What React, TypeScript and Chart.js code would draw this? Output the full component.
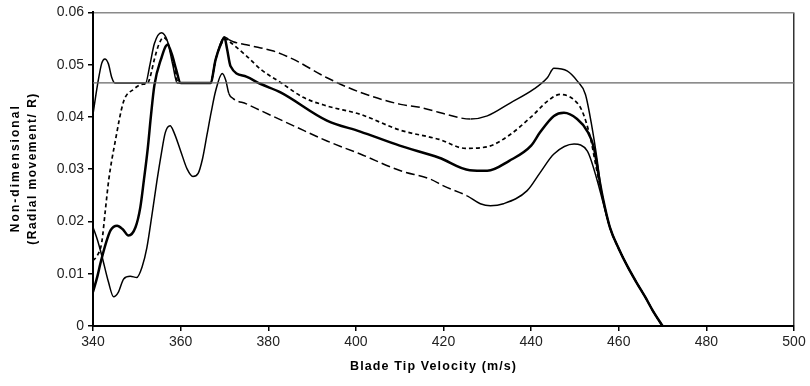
import React, { useEffect, useRef } from "react";
import { Chart, registerables } from "chart.js";

Chart.register(...registerables);

// Blade tip velocity (m/s) and non-dimensional radial movement for each curve
const velA = [340, 341, 342, 342.7, 343.5, 344.3, 345, 352, 353, 354, 355.6, 357, 358.2, 359.2, 366.8, 368, 369.2, 370, 371, 372, 375, 378.3, 381.2, 385.8, 393.4, 401, 410.2, 414.8, 419.3, 423.9, 426.2, 430, 435.3, 440.6, 443.7, 445.2, 448.2, 450.5, 452.4, 453.9, 455.1, 456, 458, 460, 462, 464, 466, 468, 470];
const radA = [0.0405, 0.046, 0.0503, 0.0511, 0.0502, 0.0475, 0.0465, 0.0465, 0.05, 0.054, 0.0561, 0.0545, 0.05, 0.0465, 0.0465, 0.051, 0.0543, 0.0553, 0.0548, 0.0544, 0.0538, 0.0532, 0.0526, 0.051, 0.0475, 0.0447, 0.0424, 0.0418, 0.0408, 0.0398, 0.0396, 0.0402, 0.0427, 0.0453, 0.0475, 0.0493, 0.0488, 0.0469, 0.0443, 0.038, 0.0316, 0.026, 0.0188, 0.0148, 0.0114, 0.0084, 0.0056, 0.0026, 0];

const velB = [340, 341, 342, 342.8, 343.6, 345, 347, 349.3, 351, 352.5, 353, 354, 355, 356.1, 357.2, 358.4, 359.5, 366.8, 368, 369.3, 370.3, 371, 375, 378.3, 382.8, 388.1, 393.4, 401, 410, 419, 425, 430, 435, 440, 444, 446.6, 449.6, 451.6, 453.5, 455, 456.2, 458, 460, 462, 464, 466, 468, 470];
const radB = [0.0125, 0.0135, 0.016, 0.022, 0.028, 0.035, 0.043, 0.0453, 0.0462, 0.0465, 0.0475, 0.051, 0.0538, 0.0552, 0.054, 0.05, 0.0465, 0.0465, 0.051, 0.054, 0.0549, 0.0545, 0.0517, 0.0491, 0.0466, 0.0437, 0.0421, 0.0405, 0.0375, 0.0357, 0.034, 0.0343, 0.0365, 0.04, 0.0432, 0.0443, 0.0434, 0.0412, 0.0361, 0.0297, 0.025, 0.0188, 0.0148, 0.0114, 0.0084, 0.0056, 0.0026, 0];

const velC = [340, 341, 341.7, 343, 344, 345.5, 346.8, 348.1, 349.7, 350.8, 351.6, 352.5, 353.2, 354, 355.5, 357, 358, 359, 360, 366.8, 368, 369.2, 370, 370.6, 371.4, 375, 378.3, 382.8, 393.4, 401, 410, 419, 426, 430, 435, 440, 442, 445.2, 447.5, 450.5, 452.8, 454.3, 455.5, 456.5, 458, 460, 462, 464, 466, 468, 470];
const radC = [0.0065, 0.0095, 0.012, 0.016, 0.0183, 0.0192, 0.0185, 0.0173, 0.0189, 0.0227, 0.0278, 0.034, 0.04, 0.046, 0.051, 0.0538, 0.052, 0.049, 0.0465, 0.0465, 0.051, 0.054, 0.0552, 0.053, 0.0497, 0.0477, 0.0463, 0.0447, 0.0393, 0.0372, 0.0345, 0.0322, 0.0298, 0.0297, 0.0316, 0.0345, 0.037, 0.0402, 0.0408, 0.0396, 0.0373, 0.0342, 0.0284, 0.024, 0.0188, 0.0148, 0.0114, 0.0084, 0.0056, 0.0026, 0];

const velD = [340, 341, 342, 343.5, 344.7, 345.8, 347, 348.5, 350, 351.2, 352.3, 353.5, 354.6, 355.6, 356.5, 357.6, 358.5, 360, 361.5, 362.8, 364, 365, 366, 367, 368, 369.5, 370.3, 371, 372, 375, 378.3, 385.8, 393.4, 401, 410.2, 417, 420, 425.4, 428.4, 430.7, 433.7, 439.1, 442.1, 445.2, 449.8, 452.8, 455.1, 456.3, 458, 460, 462, 464, 466, 468, 470];
const radD = [0.0189, 0.0165, 0.0135, 0.0085, 0.0056, 0.0065, 0.009, 0.0095, 0.0093, 0.0113, 0.015, 0.0215, 0.0278, 0.033, 0.037, 0.0383, 0.037, 0.0335, 0.03, 0.0286, 0.0292, 0.032, 0.0365, 0.041, 0.045, 0.0483, 0.047, 0.0445, 0.0435, 0.0425, 0.0412, 0.0383, 0.0354, 0.0329, 0.0297, 0.0281, 0.0268, 0.0249, 0.0234, 0.023, 0.0234, 0.0259, 0.0294, 0.0329, 0.0348, 0.0335, 0.0278, 0.024, 0.0188, 0.0148, 0.0114, 0.0084, 0.0056, 0.0026, 0];

// Horizontal reference level
const velRef = [340, 500];
const radRef = [0.0465, 0.0465];

const xTitle = "Blade Tip Velocity (m/s)";
const yTitle = ["Non-dimensional", "(Radial movement/ R)"];

const pts = (xs: number[], ys: number[]) => xs.map((x, i) => ({ x, y: ys[i] }));

function drawSpaced(ctx: CanvasRenderingContext2D, text: string, target: number) {
  (ctx as any).letterSpacing = "0px";
  const w = ctx.measureText(text).width;
  const ls = Math.max(0, (target - w) / (text.length - 1));
  (ctx as any).letterSpacing = ls + "px";
  ctx.fillText(text, ls / 2, 0);
  (ctx as any).letterSpacing = "0px";
}

const titlesPlugin = {
  id: "titles",
  afterDraw(chart: any) {
    const ctx = chart.ctx as CanvasRenderingContext2D;
    const area = chart.chartArea;
    ctx.save();
    ctx.fillStyle = "#000";
    ctx.textAlign = "center";
    ctx.textBaseline = "middle";
    ctx.font = "bold 12.5px 'Liberation Sans', Arial, sans-serif";
    ctx.save();
    ctx.translate(433, 367);
    drawSpaced(ctx, xTitle, 166);
    ctx.restore();
    const cy = (area.top + area.bottom) / 2;
    ctx.font = "bold 12px 'Liberation Sans', Arial, sans-serif";
    ctx.save();
    ctx.translate(15.5, cy);
    ctx.rotate(-Math.PI / 2);
    drawSpaced(ctx, yTitle[0], 126);
    ctx.restore();
    ctx.save();
    ctx.translate(32.5, cy);
    ctx.rotate(-Math.PI / 2);
    drawSpaced(ctx, yTitle[1], 151);
    ctx.restore();
    ctx.restore();
  },
};

const dashMid = (ctx: any) =>
  ctx.p0.parsed.x >= 371 && ctx.p1.parsed.x <= 427 ? [9, 4] : undefined;

export default function App() {
  const ref = useRef<HTMLCanvasElement | null>(null);
  useEffect(() => {
    document.body.style.margin = "0";
    if (!ref.current) return;
    const common = {
      pointRadius: 0,
      fill: false,
      cubicInterpolationMode: "monotone" as const,
      borderColor: "#000",
    };
    const chart = new Chart(ref.current, {
      type: "line",
      data: {
        datasets: [
          { ...common, data: pts(velRef, radRef), borderColor: "#666", borderWidth: 1.3 },
          { ...common, data: pts(velA, radA), borderWidth: 1.5, segment: { borderDash: dashMid } },
          { ...common, data: pts(velB, radB), borderWidth: 1.7, borderDash: [4, 3] },
          { ...common, data: pts(velC, radC), borderWidth: 2.5 },
          { ...common, data: pts(velD, radD), borderWidth: 1.5, segment: { borderDash: dashMid } },
        ],
      },
      options: {
        animation: false,
        responsive: true,
        maintainAspectRatio: false,
        layout: { padding: { left: 0, right: 16, top: 11, bottom: 0 } },
        plugins: { legend: { display: false }, tooltip: { enabled: false }, title: { display: false } },
        scales: {
          x: {
            type: "linear",
            min: 340,
            max: 500,
            ticks: {
              stepSize: 20,
              color: "#222",
              padding: 3,
              font: { family: "'Liberation Sans', Arial, sans-serif", size: 14 },
              callback: (v: any) => String(v),
            },
            grid: {
              color: (c: any) => (c.tick && c.tick.value === 500 ? "#333" : "rgba(0,0,0,0)"),
              tickColor: "#000",
              tickLength: 5,
              lineWidth: 1.5,
            },
            border: { color: "#000", width: 2 },
            afterFit: (s: any) => {
              s.height = 60;
            },
          },
          y: {
            min: 0,
            max: 0.06,
            ticks: {
              stepSize: 0.01,
              color: "#222",
              padding: 4,
              font: { family: "'Liberation Sans', Arial, sans-serif", size: 14 },
              callback: (v: any) => (Math.abs(v) < 1e-9 ? "0" : Number(v).toFixed(2)),
            },
            grid: {
              color: (c: any) => (c.tick && Math.abs(c.tick.value - 0.06) < 1e-9 ? "#8a8a8a" : "rgba(0,0,0,0)"),
              tickColor: "#000",
              tickLength: 5,
              lineWidth: 1.5,
            },
            border: { color: "#000", width: 2 },
            afterFit: (s: any) => {
              s.width = 93;
            },
          },
        },
      },
      plugins: [titlesPlugin],
    });
    return () => chart.destroy();
  }, []);
  return (
    <div style={{ position: "fixed", left: 0, top: 0, width: 810, height: 386 }}>
      <canvas ref={ref} />
    </div>
  );
}
